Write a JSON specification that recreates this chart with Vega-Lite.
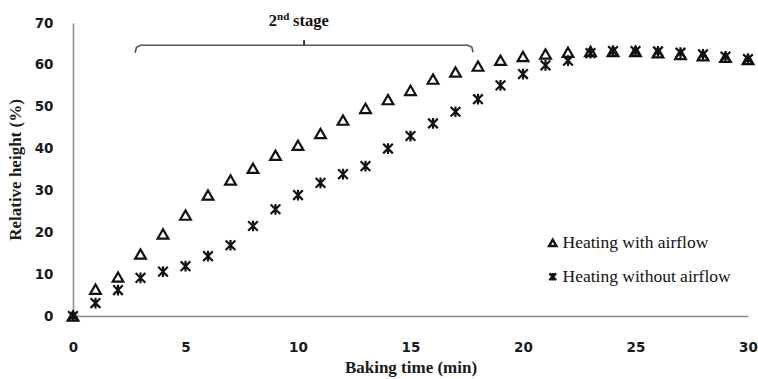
{
  "$schema": "https://vega.github.io/schema/vega-lite/v6.json",
  "width": 675,
  "height": 293,
  "autosize": {"type": "none"},
  "padding": {"left": 73, "top": 23, "right": 10, "bottom": 63},
  "background": "white",
  "config": {
    "view": {"stroke": null},
    "axis": {
      "grid": false,
      "ticks": false,
      "domainColor": "#8a8a8a",
      "domainWidth": 1.6,
      "labelFont": "DejaVu Sans",
      "labelFontWeight": "bold",
      "labelFontSize": 13.5,
      "labelColor": "#1a1a1a",
      "labelFlush": false,
      "titleFont": "Liberation Serif",
      "titleFontWeight": "bold",
      "titleFontSize": 17,
      "titleColor": "#1a1a1a"
    }
  },
  "datasets": {
    "points": [
      {"t": 0, "h": 0, "s": "Heating with airflow"},
      {"t": 1, "h": 6.4, "s": "Heating with airflow"},
      {"t": 2, "h": 9.3, "s": "Heating with airflow"},
      {"t": 3, "h": 14.8, "s": "Heating with airflow"},
      {"t": 4, "h": 19.6, "s": "Heating with airflow"},
      {"t": 5, "h": 24.1, "s": "Heating with airflow"},
      {"t": 6, "h": 28.9, "s": "Heating with airflow"},
      {"t": 7, "h": 32.5, "s": "Heating with airflow"},
      {"t": 8, "h": 35.3, "s": "Heating with airflow"},
      {"t": 9, "h": 38.4, "s": "Heating with airflow"},
      {"t": 10, "h": 40.8, "s": "Heating with airflow"},
      {"t": 11, "h": 43.6, "s": "Heating with airflow"},
      {"t": 12, "h": 46.8, "s": "Heating with airflow"},
      {"t": 13, "h": 49.6, "s": "Heating with airflow"},
      {"t": 14, "h": 51.7, "s": "Heating with airflow"},
      {"t": 15, "h": 53.9, "s": "Heating with airflow"},
      {"t": 16, "h": 56.6, "s": "Heating with airflow"},
      {"t": 17, "h": 58.3, "s": "Heating with airflow"},
      {"t": 18, "h": 59.7, "s": "Heating with airflow"},
      {"t": 19, "h": 61.1, "s": "Heating with airflow"},
      {"t": 20, "h": 62.0, "s": "Heating with airflow"},
      {"t": 21, "h": 62.6, "s": "Heating with airflow"},
      {"t": 22, "h": 63.0, "s": "Heating with airflow"},
      {"t": 23, "h": 63.2, "s": "Heating with airflow"},
      {"t": 24, "h": 63.2, "s": "Heating with airflow"},
      {"t": 25, "h": 63.2, "s": "Heating with airflow"},
      {"t": 26, "h": 62.9, "s": "Heating with airflow"},
      {"t": 27, "h": 62.5, "s": "Heating with airflow"},
      {"t": 28, "h": 62.2, "s": "Heating with airflow"},
      {"t": 29, "h": 61.8, "s": "Heating with airflow"},
      {"t": 30, "h": 61.3, "s": "Heating with airflow"},
      {"t": 0, "h": 0, "s": "Heating without airflow"},
      {"t": 1, "h": 3.1, "s": "Heating without airflow"},
      {"t": 2, "h": 6.2, "s": "Heating without airflow"},
      {"t": 3, "h": 9.1, "s": "Heating without airflow"},
      {"t": 4, "h": 10.6, "s": "Heating without airflow"},
      {"t": 5, "h": 11.9, "s": "Heating without airflow"},
      {"t": 6, "h": 14.3, "s": "Heating without airflow"},
      {"t": 7, "h": 16.9, "s": "Heating without airflow"},
      {"t": 8, "h": 21.5, "s": "Heating without airflow"},
      {"t": 9, "h": 25.5, "s": "Heating without airflow"},
      {"t": 10, "h": 28.9, "s": "Heating without airflow"},
      {"t": 11, "h": 31.8, "s": "Heating without airflow"},
      {"t": 12, "h": 33.9, "s": "Heating without airflow"},
      {"t": 13, "h": 35.8, "s": "Heating without airflow"},
      {"t": 14, "h": 40.0, "s": "Heating without airflow"},
      {"t": 15, "h": 43.0, "s": "Heating without airflow"},
      {"t": 16, "h": 46.0, "s": "Heating without airflow"},
      {"t": 17, "h": 48.8, "s": "Heating without airflow"},
      {"t": 18, "h": 51.8, "s": "Heating without airflow"},
      {"t": 19, "h": 55.1, "s": "Heating without airflow"},
      {"t": 20, "h": 57.8, "s": "Heating without airflow"},
      {"t": 21, "h": 59.9, "s": "Heating without airflow"},
      {"t": 22, "h": 61.0, "s": "Heating without airflow"},
      {"t": 23, "h": 62.8, "s": "Heating without airflow"},
      {"t": 24, "h": 63.3, "s": "Heating without airflow"},
      {"t": 25, "h": 63.3, "s": "Heating without airflow"},
      {"t": 26, "h": 63.2, "s": "Heating without airflow"},
      {"t": 27, "h": 62.9, "s": "Heating without airflow"},
      {"t": 28, "h": 62.5, "s": "Heating without airflow"},
      {"t": 29, "h": 62.0, "s": "Heating without airflow"},
      {"t": 30, "h": 61.4, "s": "Heating without airflow"}
    ],
    "bracket": [
      {"t": 2.76, "h": 62.9, "o": 0},
      {"t": 2.82, "h": 64.2, "o": 1},
      {"t": 3.0, "h": 64.7, "o": 2},
      {"t": 10.27, "h": 64.7, "o": 3},
      {"t": 17.55, "h": 64.7, "o": 4},
      {"t": 17.73, "h": 64.2, "o": 5},
      {"t": 17.78, "h": 63.0, "o": 6}
    ],
    "tick": [
      {"t": 10.27, "h": 64.7, "h2": 65.9}
    ],
    "label": [
      {"t": 9.07, "h": 69.4}
    ]
  },
  "layer": [
    {
      "data": {"name": "points"},
      "mark": {"type": "point", "filled": false, "stroke": "#111111", "strokeWidth": 2.2, "size": 115, "opacity": 1},
      "encoding": {
        "x": {"field": "t", "type": "quantitative", "scale": {"domain": [0, 30], "nice": false}, "axis": {"values": [0, 5, 10, 15, 20, 25, 30], "title": "Baking time (min)", "labelPadding": 24, "titlePadding": 6}},
        "y": {"field": "h", "type": "quantitative", "scale": {"domain": [0, 70], "nice": false}, "axis": {"values": [0, 10, 20, 30, 40, 50, 60, 70], "title": "Relative height (%)", "labelPadding": 20, "titlePadding": 10}},
        "shape": {
          "field": "s",
          "type": "nominal",
          "scale": {"domain": ["Heating with airflow", "Heating without airflow"], "range": ["triangle-up", "M-0.9,-0.9L0.9,0.9M0.9,-0.9L-0.9,0.9M0,-1L0,1"]},
          "legend": {
            "orient": "none",
            "legendX": 471,
            "legendY": 211,
            "title": null,
            "padding": 0,
            "rowPadding": 15,
            "symbolSize": 55,
            "symbolStrokeWidth": 2.4,
            "symbolStrokeColor": "#111111",
            "symbolFillColor": "transparent",
            "labelFont": "Liberation Serif",
            "labelFontSize": 17.5,
            "labelColor": "#111111",
            "labelOffset": 1,
            "labelLimit": 400
          }
        }
      }
    },
    {
      "data": {"name": "bracket"},
      "mark": {"type": "line", "color": "#555555", "strokeWidth": 1.6},
      "encoding": {
        "x": {"field": "t", "type": "quantitative"},
        "y": {"field": "h", "type": "quantitative"},
        "order": {"field": "o", "type": "quantitative"}
      }
    },
    {
      "data": {"name": "tick"},
      "mark": {"type": "rule", "color": "#333333", "strokeWidth": 2},
      "encoding": {
        "x": {"field": "t", "type": "quantitative"},
        "y": {"field": "h", "type": "quantitative"},
        "y2": {"field": "h2"}
      }
    },
    {
      "data": {"name": "label"},
      "mark": {"type": "text", "text": "2", "align": "right", "baseline": "alphabetic", "font": "Liberation Serif", "fontWeight": "bold", "fontSize": 16.5, "color": "#111111"},
      "encoding": {
        "x": {"field": "t", "type": "quantitative"},
        "y": {"field": "h", "type": "quantitative"}
      }
    },
    {
      "data": {"name": "label"},
      "mark": {"type": "text", "text": "nd", "align": "left", "baseline": "alphabetic", "dy": -6, "font": "Liberation Serif", "fontWeight": "bold", "fontSize": 11, "color": "#111111"},
      "encoding": {
        "x": {"field": "t", "type": "quantitative"},
        "y": {"field": "h", "type": "quantitative"}
      }
    },
    {
      "data": {"name": "label"},
      "mark": {"type": "text", "text": "stage", "align": "left", "baseline": "alphabetic", "dx": 16, "font": "Liberation Serif", "fontWeight": "bold", "fontSize": 16.5, "color": "#111111"},
      "encoding": {
        "x": {"field": "t", "type": "quantitative"},
        "y": {"field": "h", "type": "quantitative"}
      }
    }
  ]
}
